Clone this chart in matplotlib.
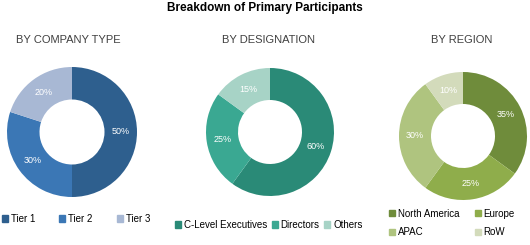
import matplotlib
matplotlib.use("Agg")
import matplotlib.pyplot as plt
from matplotlib.patches import Patch

plt.rcParams['font.family'] = ['Liberation Sans Narrow', 'Liberation Sans', 'DejaVu Sans']

company_labels = ['Tier 1', 'Tier 2', 'Tier 3']
company_values = [50, 30, 20]
company_colors = ['#2e5f8e', '#3b77b5', '#a8b8d4']

designation_labels = ['C-Level Executives', 'Directors', 'Others']
designation_values = [60, 25, 15]
designation_colors = ['#2a8a77', '#3aa892', '#a7d3c6']

region_labels = ['North America', 'Europe', 'APAC', 'RoW']
region_values = [35, 25, 30, 10]
region_colors = ['#6f8c3b', '#8fad4b', '#afc47f', '#d3dbbb']

W, H = 530, 245


def donut(cx, cy, r, values, colors):
    ax = fig.add_axes([(cx - r) / W, (H - cy - r) / H, 2 * r / W, 2 * r / H])
    ax.pie(values, colors=colors, startangle=90, counterclock=False,
           radius=1, wedgeprops=dict(width=0.5, linewidth=0),
           autopct='%d%%', pctdistance=0.75,
           textprops=dict(color='white', fontsize=6.5))
    ax.set_xlim(-1, 1)
    ax.set_ylim(-1, 1)
    ax.set_aspect('equal')
    return ax


fig = plt.figure(figsize=(W / 100, H / 100), dpi=100)

fig.text(265 / W, 1 - 8 / H, 'Breakdown of Primary Participants', ha='center', va='center',
         fontsize=8.5, fontweight='bold', family=['Liberation Sans', 'DejaVu Sans'])

fig.text(68 / W, 1 - 40 / H, 'BY COMPANY TYPE', ha='center', va='center', fontsize=8, color='#404040')
fig.text(268 / W, 1 - 40 / H, 'BY DESIGNATION', ha='center', va='center', fontsize=8, color='#404040')
fig.text(462 / W, 1 - 40 / H, 'BY REGION', ha='center', va='center', fontsize=8, color='#404040')

donut(72, 132, 65, company_values, company_colors)
donut(270, 132, 64, designation_values, designation_colors)
donut(463, 136, 64, region_values, region_colors)

leg_kw = dict(frameon=False, fontsize=7, handlelength=0.6, handleheight=0.6,
              handletextpad=0.3, borderaxespad=0, borderpad=0)

h1 = [Patch(color=c, label=l) for c, l in zip(company_colors, company_labels)]
fig.legend(handles=h1, loc='center left', bbox_to_anchor=(2 / W, 1 - 219 / H),
           ncol=3, columnspacing=2.5, **leg_kw)

h2 = [Patch(color=c, label=l) for c, l in zip(designation_colors, designation_labels)]
fig.legend(handles=h2, loc='center left', bbox_to_anchor=(175 / W, 1 - 225 / H),
           ncol=3, columnspacing=0.5, **leg_kw)

# legend fills column-wise, so reorder to get NA/Europe on the first row
h3 = [Patch(color=c, label=l) for c, l in zip(region_colors, region_labels)]
h3 = [h3[0], h3[2], h3[1], h3[3]]
fig.legend(handles=h3, loc='center left', bbox_to_anchor=(389 / W, 1 - 223 / H),
           ncol=2, columnspacing=1.6, labelspacing=0.9, **leg_kw)

fig.savefig('out.png', dpi=100)
